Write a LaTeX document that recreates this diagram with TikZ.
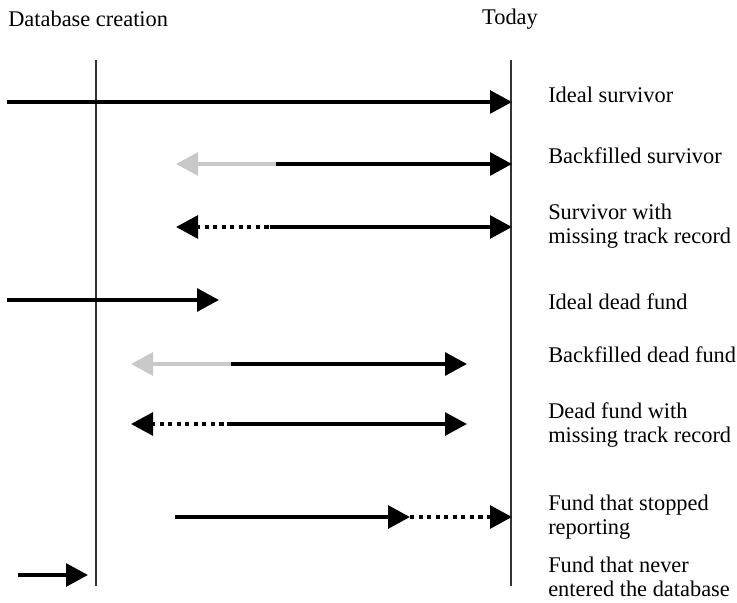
\documentclass[tikz,border=0pt]{standalone}
\usepackage{fontspec}
\setmainfont{Liberation Serif}
\usetikzlibrary{arrows.meta}
\definecolor{backgray}{RGB}{200,200,200}
\begin{document}
\begin{tikzpicture}[x=0.75pt,y=-0.75pt,
  lbl/.style={anchor=west,inner sep=0pt,align=left,font=\fontsize{16.8pt}{18pt}\selectfont},
  ttl/.style={inner sep=0pt,font=\fontsize{16.8pt}{18pt}\selectfont},
  bar/.style={line width=3pt,black},
  grayb/.style={line width=3pt,backgray},
  dotb/.style={line width=3pt,black,dash pattern=on 3.2pt off 3.2pt},
  tipr/.style={-{Triangle[length=16.5pt,width=17pt]}},
  tipl/.style={{Triangle[length=16.5pt,width=17pt]}-},
  vline/.style={line width=0.9pt,black!80}]
\useasboundingbox (0,0) rectangle (737,602);
% titles
\node[ttl,anchor=west] (tdb) at (8,19) {Database creation};
\node[ttl] (ttoday) at (510,19) {Today};
% vertical lines
\coordinate (dbt) at (96,60); \coordinate (dbb) at (96,586);
\coordinate (tdt) at (511,60); \coordinate (tdb2) at (511,586);
\draw[vline] (dbt) -- (dbb);
\draw[vline] (tdt) -- (tdb2);
% row 1
\coordinate (a1) at (7,102); \coordinate (b1) at (512,102);
\draw[bar,tipr] (a1) -- (b1);
\node[lbl] (l1) at (548,95) {Ideal survivor};
% row 2
\coordinate (a2) at (176,164); \coordinate (m2) at (276,164); \coordinate (b2) at (512,164);
\draw[grayb,tipl] (a2) -- (m2);
\draw[bar,tipr] (m2) -- (b2);
\node[lbl] (l2) at (548,156) {Backfilled survivor};
% row 3
\coordinate (a3) at (176,227); \coordinate (m3) at (270,227); \coordinate (b3) at (512,227);
\coordinate (h3) at (196,227);
\draw[bar,tipl] (a3) -- (h3);
\draw[dotb] (h3) -- (m3);
\draw[bar,tipr] (m3) -- (b3);
\node[lbl] (l3) at (548,226) {Survivor with\\missing track record};
% row 4
\coordinate (a4) at (7,300); \coordinate (b4) at (219,300);
\draw[bar,tipr] (a4) -- (b4);
\node[lbl] (l4) at (548,302) {Ideal dead fund};
% row 5
\coordinate (a5) at (131,364); \coordinate (m5) at (231,364); \coordinate (b5) at (467,364);
\draw[grayb,tipl] (a5) -- (m5);
\draw[bar,tipr] (m5) -- (b5);
\node[lbl] (l5) at (548,355) {Backfilled dead fund};
% row 6
\coordinate (a6) at (131,424); \coordinate (h6) at (151,424); \coordinate (m6) at (227,424); \coordinate (b6) at (467,424);
\draw[bar,tipl] (a6) -- (h6);
\draw[dotb] (h6) -- (m6);
\draw[bar,tipr] (m6) -- (b6);
\node[lbl] (l6) at (548,425) {Dead fund with\\missing track record};
% row 7
\coordinate (a7) at (175,517); \coordinate (m7) at (410,517); \coordinate (b7) at (512,517);
\coordinate (h7) at (492,517);
\draw[bar,tipr] (a7) -- (m7);
\draw[dotb] (m7) -- (h7);
\draw[bar,tipr] (h7) -- (b7);
\node[lbl] (l7) at (548,517) {Fund that stopped\\reporting};
% row 8
\coordinate (a8) at (18,575); \coordinate (b8) at (88,575);
\draw[bar,tipr] (a8) -- (b8);
\node[lbl] (l8) at (548,577) {Fund that never\\entered the database};
\end{tikzpicture}
\end{document}
